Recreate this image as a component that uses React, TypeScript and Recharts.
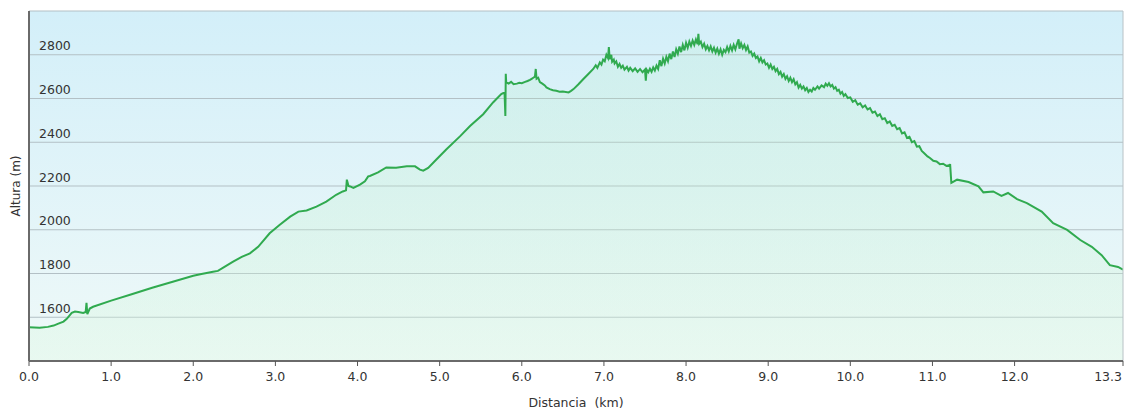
import React from "react";
import { AreaChart, Area, XAxis, YAxis, CartesianGrid, ReferenceLine } from "recharts";

// Distance along the track (km)
const distances = [
  0.0, 0.13, 0.23, 0.3, 0.35, 0.42, 0.46, 0.52, 0.56, 0.6, 0.66, 0.69, 0.7, 0.71, 0.74, 0.78,
  1.0, 1.25, 1.5, 1.75, 2.0, 2.1, 2.24, 2.3, 2.38, 2.48, 2.59, 2.69, 2.79, 2.93, 3.05, 3.18,
  3.28, 3.38, 3.5, 3.62, 3.74, 3.82, 3.86, 3.87, 3.89, 3.91, 3.95, 4.03, 4.09, 4.13, 4.15, 4.25,
  4.35, 4.47, 4.6, 4.7, 4.76, 4.8, 4.86, 4.96, 5.08, 5.25, 5.37, 5.53, 5.65, 5.75, 5.79, 5.8,
  5.805, 5.81, 5.84, 5.87, 5.9, 5.94, 5.97, 6.0, 6.04, 6.07, 6.1, 6.12, 6.14, 6.16, 6.17, 6.18,
  6.2, 6.22, 6.25, 6.28, 6.3, 6.34, 6.38, 6.42, 6.46, 6.5, 6.57, 6.6, 6.63, 6.69, 6.75, 6.81,
  6.87, 6.9, 6.92, 6.95, 6.97, 6.99, 7.01, 7.03, 7.05, 7.06, 7.07, 7.09, 7.1, 7.12, 7.13, 7.15,
  7.17, 7.19, 7.21, 7.23, 7.25, 7.28, 7.3, 7.32, 7.35, 7.38, 7.41, 7.44, 7.47, 7.5, 7.51, 7.52,
  7.54, 7.56, 7.58, 7.6, 7.62, 7.64, 7.66, 7.68, 7.7, 7.72, 7.74, 7.76, 7.78, 7.8, 7.82, 7.84,
  7.86, 7.88, 7.9, 7.92, 7.94, 7.96, 7.98, 8.0, 8.02, 8.04, 8.06, 8.08, 8.1, 8.12, 8.14, 8.15,
  8.16, 8.18, 8.2, 8.22, 8.24, 8.26, 8.28, 8.3, 8.32, 8.34, 8.36, 8.38, 8.4, 8.42, 8.44, 8.46,
  8.48, 8.5, 8.52, 8.54, 8.56, 8.58, 8.6, 8.62, 8.64, 8.65, 8.67, 8.69, 8.71, 8.73, 8.75, 8.77,
  8.79, 8.81, 8.83, 8.85, 8.87, 8.89, 8.91, 8.93, 8.95, 8.97, 8.99, 9.01, 9.03, 9.05, 9.07, 9.09,
  9.11, 9.13, 9.15, 9.17, 9.19, 9.21, 9.23, 9.25, 9.27, 9.29, 9.31, 9.33, 9.35, 9.37, 9.39, 9.41,
  9.43, 9.45, 9.47, 9.49, 9.51, 9.53, 9.55, 9.57, 9.6, 9.62, 9.65, 9.68, 9.7, 9.72, 9.74, 9.76,
  9.78, 9.8, 9.82, 9.84, 9.86, 9.88, 9.9, 9.92, 9.94, 9.97, 10.0, 10.03, 10.06, 10.09, 10.12, 10.15,
  10.18, 10.21, 10.24, 10.27, 10.3, 10.33, 10.36, 10.39, 10.42, 10.45, 10.48, 10.51, 10.54, 10.57, 10.6, 10.63,
  10.66, 10.69, 10.72, 10.75, 10.78, 10.81, 10.84, 10.87, 10.9, 10.94, 10.97, 11.01, 11.05, 11.09, 11.13, 11.17,
  11.21, 11.215, 11.23, 11.3, 11.44, 11.56, 11.62, 11.74, 11.84, 11.92, 12.03, 12.15, 12.33, 12.47, 12.64, 12.8,
  12.94, 13.06, 13.16, 13.26, 13.32,
];

// Altitude (m)
const altitudes = [
  1554, 1552, 1556, 1562, 1570, 1580, 1593, 1620, 1626, 1624, 1620, 1624, 1666, 1614, 1640, 1648,
  1676, 1705, 1735, 1762, 1790, 1798, 1808, 1812, 1830, 1853, 1876, 1892, 1922, 1984, 2022, 2060,
  2083, 2088, 2106, 2129, 2160, 2175, 2180, 2229, 2200, 2198, 2191, 2206, 2221, 2244, 2246, 2262,
  2285, 2283, 2290, 2290, 2275, 2270, 2283, 2321, 2367, 2428, 2474, 2528, 2582, 2620, 2628, 2520,
  2713, 2674, 2668, 2676, 2665, 2668, 2672, 2670, 2676, 2680, 2685, 2690, 2695, 2700, 2735, 2690,
  2695, 2675, 2668, 2660, 2651, 2643, 2638, 2635, 2631, 2632, 2628, 2635, 2643, 2665, 2689, 2712,
  2735, 2752, 2740, 2765, 2755, 2778, 2770, 2800, 2785, 2835, 2780, 2800, 2768, 2778, 2760, 2770,
  2745, 2758, 2740, 2750, 2732, 2745, 2728, 2740, 2725, 2738, 2722, 2735, 2720, 2732, 2682, 2732,
  2720, 2736, 2722, 2742, 2728, 2750, 2735, 2775, 2748, 2782, 2760, 2790, 2770, 2805, 2780, 2815,
  2790, 2825, 2805, 2838, 2812, 2845, 2820, 2855, 2832, 2860, 2840, 2865, 2845, 2870, 2848, 2896,
  2850, 2860, 2835, 2850, 2825, 2840, 2820, 2838, 2815, 2832, 2810, 2828, 2805, 2825, 2800, 2822,
  2812, 2835, 2815, 2840, 2820, 2845, 2825, 2850, 2870, 2828, 2852, 2830, 2845, 2822, 2838, 2810,
  2815, 2795, 2805, 2785, 2792, 2770, 2785, 2765, 2775, 2755, 2760, 2740, 2755, 2735, 2745, 2725,
  2735, 2712, 2722, 2700, 2712, 2690, 2702, 2680, 2695, 2675, 2688, 2665, 2675, 2650, 2662, 2645,
  2655, 2638, 2648, 2630, 2640, 2632, 2648, 2640, 2655, 2645, 2660, 2652, 2668, 2658, 2670, 2655,
  2662, 2645, 2652, 2635, 2640, 2622, 2630, 2612, 2620, 2602, 2605, 2585, 2592, 2572, 2578, 2560,
  2568, 2550, 2556, 2535, 2540, 2520, 2528, 2505, 2510, 2488, 2495, 2475, 2480, 2460, 2465, 2440,
  2445, 2420, 2425, 2400, 2405, 2380, 2382, 2360, 2350, 2335, 2328, 2315, 2312, 2300, 2302, 2292,
  2296, 2300, 2214, 2229, 2218, 2198, 2171, 2175, 2155, 2168, 2140, 2122, 2083, 2030, 1999, 1953,
  1922, 1884, 1838, 1830, 1818,
];

const xTicks = [0, 1, 2, 3, 4, 5, 6, 7, 8, 9, 10, 11, 12, 13.32];
const yTicks = [1400, 1600, 1800, 2000, 2200, 2400, 2600, 2800, 3000];
const yLabelTicks = [1600, 1800, 2000, 2200, 2400, 2600, 2800];

const xTitle = "Distancia\u00a0\u00a0(km)";
const yTitle = "Altura (m)";

const data = distances.map((d, i) => ({ d, alt: altitudes[i] }));

const FONT = "'DejaVu Sans', Verdana, sans-serif";
const LAST_X = xTicks[xTicks.length - 1];

const YTick = (props: any) => {
  const { y, payload } = props;
  if (!yLabelTicks.includes(payload.value)) return null;
  return (
    <text x={39} y={y - 4.5} fill="#333" fontSize={12.5} fontFamily={FONT} textAnchor="start">
      {payload.value}
    </text>
  );
};

const XTick = (props: any) => {
  const { x, y, payload } = props;
  const isLast = payload.value === LAST_X;
  return (
    <text
      x={isLast ? x - 1 : x}
      y={y + 9}
      fill="#333"
      fontSize={12.5}
      fontFamily={FONT}
      textAnchor={isLast ? "end" : "middle"}
    >
      {Number(payload.value).toFixed(1)}
    </text>
  );
};

export default function App() {
  return (
    <div style={{ position: "absolute", left: 0, top: 0, background: "#fff" }}>
      <AreaChart
        width={1126}
        height={418}
        data={data}
        margin={{ top: 11, right: 3, bottom: 7, left: 0 }}
      >
        <defs>
          <linearGradient id="bgGrad" x1="0" y1="0" x2="0" y2="1">
            <stop offset="0%" stopColor="#d3eff9" />
            <stop offset="100%" stopColor="#eff9f8" />
          </linearGradient>
          <linearGradient id="areaGrad" x1="0" y1="0" x2="0" y2="1">
            <stop offset="0%" stopColor="#a8eab6" stopOpacity={0.14} />
            <stop offset="100%" stopColor="#dcf8e2" stopOpacity={0.35} />
          </linearGradient>
        </defs>
        <CartesianGrid
          vertical={false}
          stroke="#b3c0c5"
          strokeOpacity={1}
          fill="url(#bgGrad)"
          fillOpacity={1}
        />
        <XAxis
          dataKey="d"
          type="number"
          domain={[0, 13.32]}
          ticks={xTicks}
          allowDataOverflow
          axisLine={{ stroke: "#6a6a6a", strokeWidth: 2 }}
          tickLine={{ stroke: "#555" }}
          tickSize={5}
          tickMargin={6}
          height={50}
          interval={0}
          tick={<XTick />}
          label={{
            value: xTitle,
            position: "insideBottom",
            offset: 4,
            fill: "#333",
            fontSize: 12.5,
            fontFamily: FONT,
          }}
        />
        <YAxis
          type="number"
          domain={[1400, 3000]}
          ticks={yTicks}
          allowDataOverflow
          width={29}
          interval={0}
          axisLine={{ stroke: "#6a6a6a", strokeWidth: 2 }}
          tickLine={false}
          tick={<YTick />}
          label={{
            value: yTitle,
            angle: -90,
            position: "center",
            dx: 1,
            fill: "#333",
            fontSize: 12,
            fontFamily: FONT,
          }}
        />
        <ReferenceLine x={13.32} stroke="#b8c2c6" strokeWidth={1} />
        <Area
          type="linear"
          dataKey="alt"
          stroke="#30aa4f"
          strokeWidth={2}
          fill="url(#areaGrad)"
          fillOpacity={1}
          isAnimationActive={false}
          dot={false}
          activeDot={false}
        />
      </AreaChart>
    </div>
  );
}
